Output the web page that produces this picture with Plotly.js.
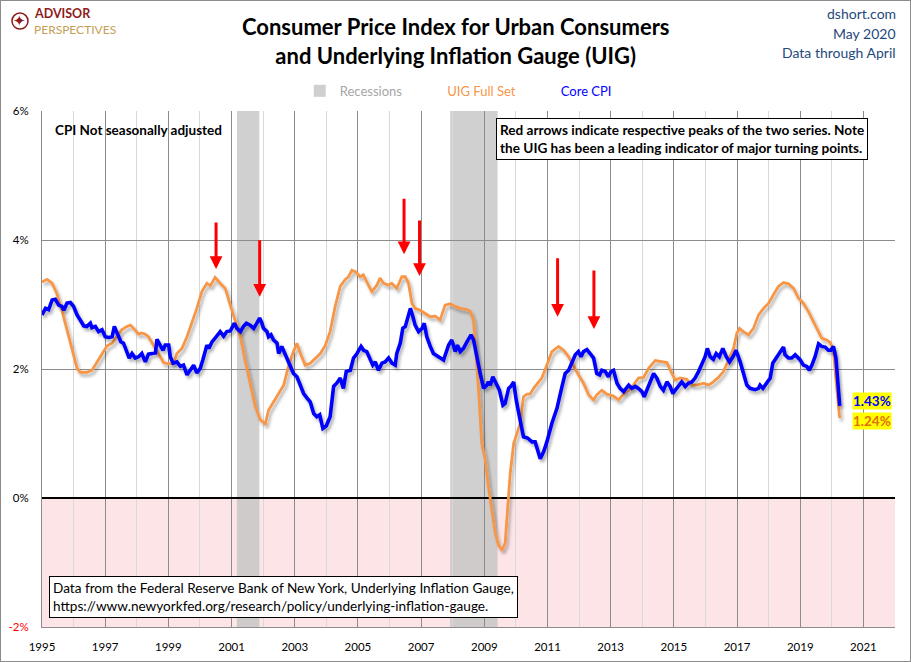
<!DOCTYPE html>
<html>
<head>
<meta charset="utf-8">
<script src="https://cdn.plot.ly/plotly-3.0.1.min.js"></script>
<style>
  html, body { margin: 0; padding: 0; background: #fff; }
  #wrap { position: relative; width: 911px; height: 662px; }
  #chart { width: 911px; height: 662px; }
  #frame { position: absolute; left: 0; top: 0; width: 909px; height: 660px; border: 1px solid #8c8c8c; pointer-events: none; }
  .js-line { filter: url(#shd); }
</style>
</head>
<body>
<svg width="0" height="0" style="position:absolute">
  <defs>
    <filter id="shd" x="-5%" y="-5%" width="110%" height="115%">
      <feDropShadow dx="2" dy="3" stdDeviation="1.6" flood-color="#000" flood-opacity="0.3"/>
    </filter>
  </defs>
</svg>
<div id="wrap"><div id="chart"></div><div id="frame"></div></div>
<script>
// ---- Data (x = decimal year) ----
const uigYear = [1995.00,1995.16,1995.32,1995.47,1995.63,1995.79,1995.95,1996.11,1996.21,1996.42,1996.58,1996.74,1996.90,1997.06,1997.22,1997.37,1997.53,1997.69,1997.80,1997.90,1998.06,1998.16,1998.27,1998.37,1998.53,1998.69,1998.85,1999.01,1999.17,1999.27,1999.43,1999.59,1999.75,1999.90,2000.06,2000.22,2000.33,2000.48,2000.64,2000.80,2000.96,2001.12,2001.28,2001.43,2001.59,2001.75,2001.91,2002.07,2002.17,2002.33,2002.49,2002.65,2002.81,2002.96,2003.07,2003.18,2003.33,2003.49,2003.65,2003.81,2003.97,2004.12,2004.28,2004.44,2004.60,2004.70,2004.81,2004.92,2005.07,2005.17,2005.28,2005.44,2005.60,2005.70,2005.81,2005.97,2006.07,2006.23,2006.39,2006.50,2006.60,2006.71,2006.81,2006.97,2007.13,2007.29,2007.45,2007.60,2007.76,2007.92,2008.08,2008.24,2008.40,2008.55,2008.66,2008.71,2008.82,2008.92,2009.03,2009.13,2009.24,2009.35,2009.45,2009.56,2009.66,2009.71,2009.77,2009.82,2009.93,2010.03,2010.14,2010.24,2010.35,2010.45,2010.56,2010.72,2010.82,2010.98,2011.14,2011.35,2011.51,2011.67,2011.83,2011.98,2012.14,2012.30,2012.46,2012.56,2012.72,2012.88,2013.09,2013.25,2013.41,2013.57,2013.72,2013.88,2014.04,2014.20,2014.41,2014.62,2014.78,2014.94,2015.04,2015.20,2015.41,2015.57,2015.73,2015.94,2016.10,2016.25,2016.41,2016.57,2016.73,2016.89,2016.99,2017.08,2017.20,2017.36,2017.52,2017.68,2017.84,2018.00,2018.15,2018.31,2018.47,2018.63,2018.79,2018.94,2019.10,2019.26,2019.42,2019.58,2019.68,2019.84,2019.95,2020.05,2020.10,2020.18,2020.25];
const uigValue = [3.35,3.39,3.33,3.17,2.91,2.60,2.29,2.01,1.95,1.95,1.98,2.10,2.22,2.36,2.40,2.50,2.61,2.66,2.68,2.63,2.54,2.56,2.54,2.50,2.37,2.22,2.10,2.08,2.09,2.24,2.32,2.50,2.71,2.94,3.20,3.33,3.29,3.42,3.33,3.25,2.99,2.76,2.50,2.14,1.78,1.42,1.21,1.15,1.36,1.48,1.62,1.75,2.06,2.27,2.40,2.24,2.06,2.09,2.17,2.24,2.37,2.58,2.97,3.28,3.39,3.43,3.53,3.51,3.43,3.46,3.35,3.20,3.30,3.41,3.33,3.30,3.33,3.25,3.43,3.43,3.33,3.02,2.94,2.91,2.86,2.81,2.82,2.76,2.99,3.01,2.97,2.94,2.93,2.90,2.75,2.45,1.67,0.85,0.59,0.18,-0.19,-0.55,-0.73,-0.81,-0.70,-0.39,0.02,0.38,0.85,1.00,1.16,1.57,1.61,1.61,1.70,1.80,1.86,2.06,2.27,2.35,2.29,2.19,2.04,1.91,1.78,1.60,1.52,1.60,1.67,1.61,1.58,1.52,1.61,1.67,1.75,1.86,1.87,2.01,2.13,2.11,2.10,1.93,1.83,1.86,1.84,1.75,1.75,1.78,1.75,1.80,1.87,1.96,2.14,2.32,2.55,2.63,2.58,2.53,2.63,2.84,2.94,3.02,3.15,3.28,3.34,3.32,3.25,3.10,3.02,2.89,2.73,2.58,2.48,2.45,2.41,2.29,1.98,1.57,1.24];

const cpiYear = [1995.00,1995.11,1995.21,1995.32,1995.42,1995.53,1995.63,1995.69,1995.79,1995.90,1996.00,1996.11,1996.21,1996.32,1996.42,1996.53,1996.58,1996.69,1996.79,1996.90,1997.00,1997.11,1997.22,1997.29,1997.40,1997.50,1997.58,1997.69,1997.76,1997.85,1997.95,1998.06,1998.16,1998.27,1998.37,1998.48,1998.59,1998.64,1998.75,1998.83,1998.90,1999.01,1999.06,1999.15,1999.27,1999.38,1999.48,1999.59,1999.69,1999.80,1999.90,2000.01,2000.09,2000.22,2000.28,2000.38,2000.48,2000.56,2000.64,2000.75,2000.85,2000.96,2001.09,2001.17,2001.28,2001.38,2001.47,2001.59,2001.70,2001.80,2001.89,2001.96,2002.01,2002.12,2002.17,2002.25,2002.33,2002.44,2002.49,2002.59,2002.70,2002.80,2002.96,2003.07,2003.18,2003.28,2003.39,2003.49,2003.60,2003.70,2003.79,2003.89,2004.00,2004.12,2004.23,2004.33,2004.44,2004.54,2004.63,2004.76,2004.86,2004.97,2005.10,2005.18,2005.28,2005.39,2005.47,2005.55,2005.65,2005.76,2005.86,2005.97,2006.08,2006.18,2006.23,2006.34,2006.42,2006.50,2006.55,2006.66,2006.74,2006.81,2006.92,2007.03,2007.10,2007.18,2007.29,2007.39,2007.55,2007.71,2007.87,2007.97,2008.08,2008.15,2008.24,2008.34,2008.45,2008.58,2008.66,2008.77,2008.87,2008.98,2009.08,2009.13,2009.19,2009.27,2009.38,2009.48,2009.59,2009.66,2009.77,2009.84,2009.93,2010.01,2010.12,2010.24,2010.37,2010.51,2010.61,2010.69,2010.77,2010.88,2010.98,2011.14,2011.30,2011.46,2011.56,2011.67,2011.77,2011.88,2011.98,2012.06,2012.14,2012.25,2012.35,2012.46,2012.56,2012.65,2012.72,2012.83,2012.93,2013.01,2013.09,2013.20,2013.30,2013.41,2013.49,2013.57,2013.67,2013.78,2013.88,2013.99,2014.06,2014.15,2014.25,2014.36,2014.46,2014.57,2014.67,2014.78,2014.88,2014.97,2015.04,2015.15,2015.25,2015.36,2015.46,2015.57,2015.67,2015.78,2015.88,2015.99,2016.06,2016.15,2016.25,2016.34,2016.44,2016.55,2016.66,2016.76,2016.87,2016.97,2017.10,2017.20,2017.31,2017.41,2017.57,2017.68,2017.73,2017.82,2017.94,2018.05,2018.13,2018.24,2018.36,2018.47,2018.52,2018.63,2018.73,2018.84,2019.00,2019.10,2019.21,2019.29,2019.37,2019.47,2019.58,2019.68,2019.79,2019.89,2019.97,2020.05,2020.13,2020.19,2020.25];
const cpiValue = [2.84,2.94,2.92,3.07,3.08,2.99,2.97,2.91,3.02,3.03,2.97,2.84,2.76,2.67,2.66,2.71,2.64,2.66,2.58,2.61,2.50,2.49,2.50,2.66,2.53,2.42,2.40,2.24,2.17,2.24,2.17,2.19,2.24,2.11,2.23,2.24,2.25,2.46,2.37,2.29,2.37,2.37,2.19,2.09,2.11,2.04,2.06,1.91,1.98,2.06,1.94,2.01,2.14,2.37,2.32,2.42,2.48,2.53,2.58,2.51,2.58,2.59,2.71,2.63,2.58,2.66,2.71,2.68,2.63,2.71,2.79,2.71,2.63,2.58,2.50,2.53,2.45,2.40,2.24,2.35,2.22,2.11,1.93,1.88,1.73,1.62,1.55,1.49,1.31,1.26,1.29,1.08,1.12,1.26,1.73,1.78,1.86,1.70,1.96,1.98,2.17,2.24,2.35,2.29,2.27,2.14,2.06,2.11,1.98,2.09,2.11,2.17,2.09,2.06,2.24,2.40,2.63,2.66,2.76,2.94,2.81,2.68,2.58,2.63,2.71,2.50,2.35,2.24,2.19,2.14,2.37,2.45,2.27,2.37,2.27,2.32,2.42,2.53,2.45,2.14,1.93,1.70,1.75,1.80,1.75,1.88,1.78,1.67,1.44,1.47,1.70,1.73,1.80,1.52,1.24,0.95,0.93,0.87,0.87,0.74,0.61,0.72,0.87,1.16,1.39,1.73,1.93,1.98,2.11,2.22,2.27,2.19,2.27,2.30,2.24,2.17,1.93,1.91,1.98,1.96,1.88,1.96,1.98,1.78,1.70,1.65,1.70,1.75,1.70,1.73,1.70,1.65,1.57,1.67,1.80,1.93,1.86,1.73,1.67,1.80,1.73,1.62,1.67,1.75,1.80,1.73,1.78,1.80,1.86,1.96,2.06,2.19,2.32,2.19,2.15,2.24,2.19,2.32,2.19,2.11,2.19,2.29,2.11,1.93,1.75,1.70,1.68,1.70,1.75,1.70,1.78,1.86,2.09,2.17,2.27,2.34,2.22,2.17,2.17,2.22,2.14,2.06,2.04,1.98,2.06,2.19,2.39,2.35,2.34,2.29,2.29,2.35,2.17,1.83,1.43];

// Recessions (start / end, decimal years)
const recessionStart = [2001.17, 2007.92];
const recessionEnd   = [2001.88, 2009.42];

// Red peak arrows: year, value at arrow tip, arrow length (px)
const peakArrowYear = [2000.51, 2001.89, 2006.46, 2006.95, 2011.32, 2012.47];
const peakArrowTip  = [3.55, 3.12, 3.78, 3.44, 2.81, 2.62];
const peakArrowLen  = [48, 58, 57, 57, 60, 60];

// Axis ticks
const xTickYears = [1995,1997,1999,2001,2003,2005,2007,2009,2011,2013,2015,2017,2019,2021];
const yTickVals = [-2, 0, 2, 4, 6];
const yTickText = ['<span style="color:#ff0000">-2%</span>', '0%', '2%', '4%', '6%'];

// ---- Build chart ----
const FONT = 'Lato, "Open Sans", sans-serif';
const ORANGE = '#F79646';
const BLUE = '#0000FF';

const traces = [
  {
    x: uigYear, y: uigValue, type: 'scatter', mode: 'lines',
    name: '<span style="color:#F79646">UIG Full Set</span>',
    line: { color: ORANGE, width: 2.8 }, legendrank: 2, hoverinfo: 'skip'
  },
  {
    x: cpiYear, y: cpiValue, type: 'scatter', mode: 'lines',
    name: '<span style="color:#0000FF">Core CPI</span>',
    line: { color: BLUE, width: 3.6 }, legendrank: 3, hoverinfo: 'skip'
  }
];

const shapes = [
  { type: 'rect', xref: 'paper', yref: 'y', x0: 0, x1: 1, y0: -2, y1: 0,
    fillcolor: '#FDE4E6', line: { width: 0 }, layer: 'below' },
  // logo compass ring
  { type: 'circle', xref: 'paper', yref: 'paper', x0: -0.0352, x1: -0.0164, y0: 1.1589, y1: 1.1899,
    line: { color: '#8E1B1B', width: 1.5 }, fillcolor: 'rgba(0,0,0,0)' }
];
recessionStart.forEach((s, i) => {
  shapes.push({
    type: 'rect', xref: 'x', yref: 'paper', x0: s, x1: recessionEnd[i], y0: 0, y1: 1,
    fillcolor: '#C4C4C4', opacity: 0.8, line: { width: 0 }, layer: 'below',
    showlegend: i === 0, name: '<span style="color:#A6A6A6">Recessions</span>', legendrank: 1
  });
});

const annotations = [];
peakArrowYear.forEach((yr, i) => {
  annotations.push({
    x: yr, y: peakArrowTip[i], xref: 'x', yref: 'y', text: '',
    showarrow: true, ax: 0, ay: -peakArrowLen[i], arrowcolor: '#FF0000',
    arrowwidth: 3, arrowhead: 2, arrowsize: 0.85, standoff: 0, startstandoff: 0
  });
});

const lastCpi = cpiValue[cpiValue.length - 1];
const lastUig = uigValue[uigValue.length - 1];
const lastYear = cpiYear[cpiYear.length - 1];
annotations.push(
  // Title
  { xref: 'paper', yref: 'paper', x: 0.4842, y: 1.1357, xanchor: 'center', yanchor: 'middle', showarrow: false,
    text: '<b>Consumer Price Index for Urban Consumers<br>and Underlying Inflation Gauge (UIG)</b>',
    font: { family: FONT, size: 22, color: '#000' } },
  // Last values
  { x: lastYear, y: lastCpi, xref: 'x', yref: 'y', xanchor: 'left', yanchor: 'middle',
    xshift: 12, yshift: 5, showarrow: false, text: '<b>' + lastCpi.toFixed(2) + '%</b>',
    bgcolor: '#FFFF00', borderpad: 0, font: { family: FONT, size: 13.5, color: '#0000FF' } },
  { x: uigYear[uigYear.length - 1], y: lastUig, xref: 'x', yref: 'y', xanchor: 'left', yanchor: 'middle',
    xshift: 12, yshift: -3, showarrow: false, text: '<b>' + lastUig.toFixed(2) + '%</b>',
    bgcolor: '#FFFF00', borderpad: 0, font: { family: FONT, size: 13.5, color: '#E46C0A' } },
  // Top right credits
  { xref: 'paper', yref: 'paper', x: 1.003, y: 1.188, xanchor: 'right', yanchor: 'middle', showarrow: false,
    text: 'dshort.com', font: { family: FONT, size: 14, color: '#1F497D' } },
  { xref: 'paper', yref: 'paper', x: 1.003, y: 1.151, xanchor: 'right', yanchor: 'middle', showarrow: false,
    text: 'May 2020', font: { family: FONT, size: 14, color: '#1F497D' } },
  { xref: 'paper', yref: 'paper', x: 1.003, y: 1.114, xanchor: 'right', yanchor: 'middle', showarrow: false,
    text: 'Data through April', font: { family: FONT, size: 14, color: '#1F497D' } },
  // Logo
  { xref: 'paper', yref: 'paper', x: -0.0105, y: 1.1880, xanchor: 'left', yanchor: 'middle', showarrow: false,
    borderpad: 0, text: '<b>ADVISOR</b>', font: { family: FONT, size: 12.5, color: '#8E1B1B' } },
  { xref: 'paper', yref: 'paper', x: -0.0105, y: 1.1585, xanchor: 'left', yanchor: 'middle', showarrow: false,
    borderpad: 0, text: 'PERSPECTIVES', font: { family: FONT, size: 12, color: '#C4A055' } },
  { xref: 'paper', yref: 'paper', x: -0.0258, y: 1.1744, xanchor: 'center', yanchor: 'middle', showarrow: false,
    borderpad: 0, text: '✦', font: { family: '"DejaVu Sans", sans-serif', size: 15, color: '#8E1B1B' } },
  // Notes
  { xref: 'paper', yref: 'paper', x: 0.013, y: 0.963, xanchor: 'left', yanchor: 'middle', showarrow: false,
    text: '<b>CPI Not seasonally adjusted</b>', font: { family: FONT, size: 13.5, color: '#000' } },
  { xref: 'paper', yref: 'paper', x: 0.532, y: 0.9864, xanchor: 'left', yanchor: 'top', showarrow: false,
    align: 'left', bgcolor: '#FFFFFF', bordercolor: '#000', borderwidth: 1, borderpad: 3,
    text: '<b>Red arrows indicate respective peaks of the two series. Note<br>the UIG has been a leading indicator of major turning points.</b>',
    font: { family: FONT, size: 13.6, color: '#000' } },
  { xref: 'paper', yref: 'paper', x: 0.0082, y: 0.0174, xanchor: 'left', yanchor: 'bottom', showarrow: false,
    align: 'left', bgcolor: '#FFFFFF', bordercolor: '#000', borderwidth: 1, borderpad: 3,
    text: 'Data from the Federal Reserve Bank of New York, Underlying Inflation Gauge,<br>https://www.newyorkfed.org/research/policy/underlying-inflation-gauge.',
    font: { family: FONT, size: 13.6, color: '#000' } }
);

const layout = {
  width: 911, height: 662,
  margin: { l: 42, r: 16, t: 111, b: 35 },
  paper_bgcolor: '#FFFFFF', plot_bgcolor: '#FFFFFF',
  font: { family: FONT, size: 11, color: '#000' },
  showlegend: true,
  legend: {
    orientation: 'h', x: 0.488, xanchor: 'center', y: 1.039, yanchor: 'middle',
    font: { family: FONT, size: 13 }, bgcolor: 'rgba(0,0,0,0)', traceorder: 'normal'
  },
  xaxis: {
    range: [1995, 2022], tickvals: xTickYears, ticktext: xTickYears.map(String),
    showgrid: true, gridcolor: '#8C8C8C', gridwidth: 1,
    minor: { tick0: 1995, dtick: 1, showgrid: true, gridcolor: '#D9D9D9', gridwidth: 1 },
    showline: true, linecolor: '#8C8C8C', linewidth: 1, mirror: false,
    ticks: '', ticklabelstandoff: 9, zeroline: false, fixedrange: true,
    tickfont: { family: FONT, size: 11.5, color: '#000' }
  },
  yaxis: {
    range: [-2, 6], tickvals: yTickVals, ticktext: yTickText,
    showgrid: true, gridcolor: '#8C8C8C', gridwidth: 1,
    zeroline: true, zerolinecolor: '#000000', zerolinewidth: 2.5,
    showline: true, linecolor: '#8C8C8C', linewidth: 1,
    ticks: '', ticklabelstandoff: 10, fixedrange: true,
    tickfont: { family: FONT, size: 11.5, color: '#000' }
  },
  shapes: shapes,
  annotations: annotations
};

Plotly.newPlot('chart', traces, layout, { displayModeBar: false, staticPlot: true });
</script>
</body>
</html>
